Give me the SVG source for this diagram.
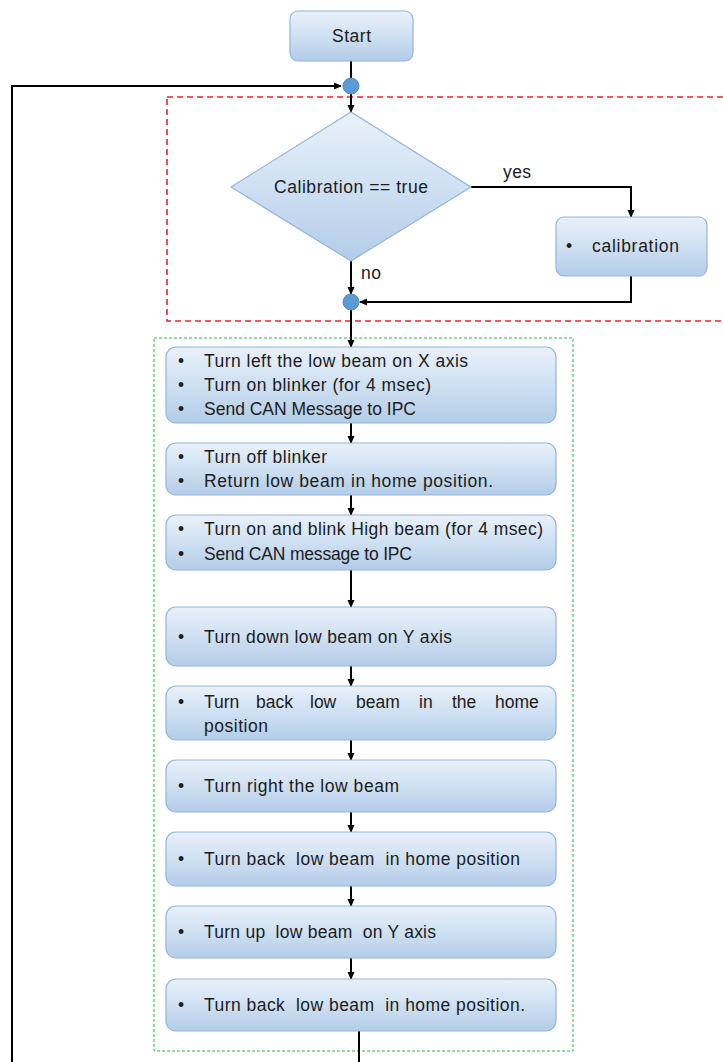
<svg xmlns="http://www.w3.org/2000/svg" width="723" height="1062" viewBox="0 0 723 1062">
<style>
.box{fill:url(#g);stroke:#92b5da;stroke-width:1.2}
.t{font-family:"Liberation Sans",Arial,sans-serif;font-size:17.5px;fill:#1c1c1c}
.c{stroke:#000;stroke-width:2;fill:none}
.dot{fill:#5b9bd5;stroke:#4f8ac2;stroke-width:1}
</style>
<defs>
<linearGradient id="g" x1="0" y1="0" x2="0" y2="1">
<stop offset="0" stop-color="#e9f1fa"/>
<stop offset="0.5" stop-color="#cfe0f2"/>
<stop offset="1" stop-color="#b3cce8"/>
</linearGradient>
<marker id="a" markerWidth="8" markerHeight="8" refX="7" refY="4" orient="auto" markerUnits="userSpaceOnUse">
<path d="M0,0.5 L8,4 L0,7.5 z" fill="#000"/>
</marker>
</defs>
<rect x="167" y="97" width="570" height="224" fill="none" stroke="#e8262a" stroke-width="1.6" stroke-dasharray="6,4"/>
<rect x="154" y="338" width="419" height="713" fill="none" stroke="#22bb44" stroke-width="1" stroke-dasharray="3,2"/>
<g id="connectors">
<path class="c" d="M351,61 V78"/>
<path class="c" d="M12,1062 V86 H341" marker-end="url(#a)"/>
<path class="c" d="M351,94 V112" marker-end="url(#a)"/>
<path class="c" d="M471,187 H631 V217" marker-end="url(#a)"/>
<path class="c" d="M351,261 V294" marker-end="url(#a)"/>
<path class="c" d="M631,276 V302 H360" marker-end="url(#a)"/>
<path class="c" d="M351,310 V347" marker-end="url(#a)"/>
<path class="c" d="M351,423 V443" marker-end="url(#a)"/>
<path class="c" d="M351,495 V515" marker-end="url(#a)"/>
<path class="c" d="M351,570 V607" marker-end="url(#a)"/>
<path class="c" d="M351,666 V686" marker-end="url(#a)"/>
<path class="c" d="M351,740 V760" marker-end="url(#a)"/>
<path class="c" d="M351,812 V832" marker-end="url(#a)"/>
<path class="c" d="M351,886 V906" marker-end="url(#a)"/>
<path class="c" d="M351,958 V979" marker-end="url(#a)"/>
<path class="c" d="M359,1031 V1062"/>
<text class="t" x="503" y="178" textLength="28">yes</text>
<text class="t" x="361" y="279" textLength="20">no</text>
</g>
<g id="start"><rect class="box" x="290" y="11" width="123" height="50" rx="8"/><text class="t" x="332" y="42" textLength="39">Start</text></g>
<g id="j1"><circle class="dot" cx="351" cy="86" r="8"/></g>
<g id="decision"><polygon class="box" points="351,112 471,187 351,261 231,187"/><text class="t" x="274" y="193" textLength="154">Calibration == true</text></g>
<g id="calibration"><rect class="box" x="556" y="217" width="151" height="59" rx="8"/><text class="t" x="566" y="252">•</text><text class="t" x="592" y="252" textLength="87">calibration</text></g>
<g id="j2"><circle class="dot" cx="351" cy="302" r="8"/></g>
<g id="b1"><rect class="box" x="166" y="347" width="390" height="76" rx="10"/>
<text class="t" x="178" y="367">•</text><text class="t" x="204" y="367" textLength="264">Turn left the low beam on X axis</text>
<text class="t" x="178" y="391">•</text><text class="t" x="204" y="391" textLength="227">Turn on blinker (for 4 msec)</text>
<text class="t" x="178" y="415">•</text><text class="t" x="204" y="415" textLength="212">Send CAN Message to IPC</text></g>
<g id="b2"><rect class="box" x="166" y="443" width="390" height="52" rx="10"/>
<text class="t" x="178" y="463">•</text><text class="t" x="204" y="463" textLength="123">Turn off blinker</text>
<text class="t" x="178" y="487">•</text><text class="t" x="204" y="487" textLength="289">Return low beam in home position.</text></g>
<g id="b3"><rect class="box" x="166" y="515" width="390" height="55" rx="10"/>
<text class="t" x="178" y="535">•</text><text class="t" x="204" y="535" textLength="339">Turn on and blink High beam (for 4 msec)</text>
<text class="t" x="178" y="560">•</text><text class="t" x="204" y="560" textLength="208">Send CAN message to IPC</text></g>
<g id="b4"><rect class="box" x="166" y="607" width="390" height="59" rx="10"/>
<text class="t" x="178" y="643">•</text><text class="t" x="204" y="643" textLength="248">Turn down low beam on Y axis</text></g>
<g id="b5"><rect class="box" x="166" y="686" width="390" height="54" rx="10"/>
<text class="t" x="178" y="708">•</text><text class="t" y="708"><tspan x="204">Turn</tspan><tspan x="256">back</tspan><tspan x="310">low</tspan><tspan x="356">beam</tspan><tspan x="419">in</tspan><tspan x="452">the</tspan><tspan x="495">home</tspan></text>
<text class="t" x="204" y="732" textLength="64">position</text></g>
<g id="b6"><rect class="box" x="166" y="760" width="390" height="52" rx="10"/>
<text class="t" x="178" y="792">•</text><text class="t" x="204" y="792" textLength="195">Turn right the low beam</text></g>
<g id="b7"><rect class="box" x="166" y="832" width="390" height="54" rx="10"/>
<text class="t" x="178" y="865">•</text><text class="t" x="204" y="865" xml:space="preserve" textLength="316">Turn back  low beam  in home position</text></g>
<g id="b8"><rect class="box" x="166" y="906" width="390" height="52" rx="10"/>
<text class="t" x="178" y="938">•</text><text class="t" x="204" y="938" xml:space="preserve" textLength="232">Turn up  low beam  on Y axis</text></g>
<g id="b9"><rect class="box" x="166" y="979" width="390" height="52" rx="10"/>
<text class="t" x="178" y="1011">•</text><text class="t" x="204" y="1011" xml:space="preserve" textLength="321">Turn back  low beam  in home position.</text></g>
</svg>
